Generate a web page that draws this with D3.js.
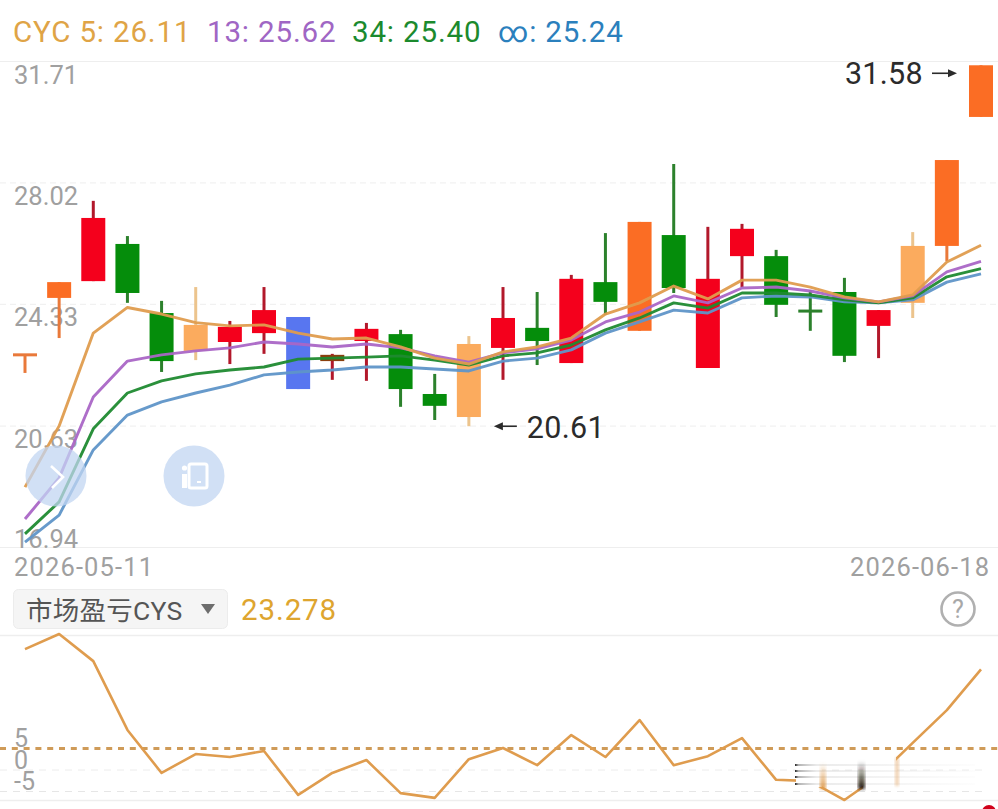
<!DOCTYPE html>
<html><head><meta charset="utf-8">
<script src="https://cdn.jsdelivr.net/npm/d3@7/dist/d3.min.js"></script>
<style>html,body{margin:0;padding:0;background:#fff}svg{display:block}text{font-family:Roboto,"Noto Sans CJK SC",sans-serif}</style>
</head><body><div id="c"></div>
<script>
const dates=["2026-05-11","2026-05-12","2026-05-13","2026-05-14","2026-05-15","2026-05-18","2026-05-19","2026-05-20","2026-05-21","2026-05-22","2026-05-25","2026-05-26","2026-05-27","2026-05-28","2026-05-29","2026-06-01","2026-06-02","2026-06-03","2026-06-04","2026-06-05","2026-06-08","2026-06-09","2026-06-10","2026-06-11","2026-06-12","2026-06-15","2026-06-16","2026-06-17","2026-06-18"];
const kinds=["orange","orange","red","green","green","light","red","red","blue","brown","red","green","green","light","red","green","red","green","orange","green","red","red","green","green","green","red","light","orange","orange"];
const upper=[22.78,24.99,26.94,26.15,24.05,23.69,23.63,24.14,23.93,22.78,23.57,23.41,21.59,23.11,23.90,23.60,25.09,24.99,26.82,26.42,25.09,26.61,25.78,24.11,24.69,24.14,26.09,28.70,31.58];
const lower=[22.78,24.51,25.02,24.66,22.59,22.90,23.17,23.44,21.74,22.59,23.20,21.74,21.23,20.89,22.99,23.20,22.53,24.39,23.51,24.81,22.38,25.78,24.30,24.11,22.75,23.66,24.36,26.09,30.01];
const high=[22.78,24.99,27.46,26.39,24.42,24.84,23.81,24.84,23.93,22.81,23.75,23.54,22.20,23.35,24.84,24.69,25.21,26.48,26.82,28.58,26.67,26.76,25.97,24.75,25.12,24.14,26.51,28.70,31.58];
const low=[22.23,23.29,25.02,24.36,22.26,22.62,22.50,22.81,21.74,22.02,21.99,21.20,20.80,20.61,22.02,22.47,22.53,23.99,23.51,24.66,22.38,24.84,23.93,23.51,22.56,22.68,23.90,25.63,30.01];
const ma5=[18.76,20.62,23.44,24.22,24.02,23.76,23.66,23.69,23.44,23.26,23.29,23.02,22.68,22.50,22.87,23.02,23.29,24.02,24.36,24.87,24.48,25.05,25.05,24.84,24.54,24.39,24.60,25.60,26.11];
const ma13=[17.79,19.04,21.50,22.59,22.78,22.90,22.99,23.17,23.11,23.02,23.11,22.99,22.75,22.56,22.84,22.96,23.23,23.78,24.08,24.57,24.36,24.81,24.84,24.72,24.51,24.39,24.57,25.30,25.62];
const ma34=[17.34,18.31,20.53,21.62,21.99,22.20,22.32,22.41,22.65,22.68,22.71,22.75,22.62,22.47,22.75,22.84,23.08,23.54,23.90,24.36,24.20,24.66,24.66,24.60,24.45,24.36,24.51,25.15,25.40];
const maInf=[17.09,17.91,19.89,20.95,21.35,21.62,21.86,22.17,22.26,22.32,22.41,22.41,22.35,22.29,22.59,22.68,22.93,23.44,23.78,24.14,24.05,24.51,24.57,24.54,24.39,24.36,24.45,24.99,25.24];
const cys=[28.0,31.5,25.2,9.2,-0.8,3.6,2.9,4.3,-5.9,-0.8,2.2,-5.5,-6.6,2.4,5.0,1.0,8.0,2.9,11.5,1.0,3.1,7.3,-2.4,-2.7,-7.1,-1.5,6.2,13.8,23.278];
const priceTicks=[31.71,28.02,24.33,20.63,16.94];
const cysTicks=[5,0,-5];
const dateTicks=["2026-05-11","2026-06-18"];
const legend=[["CYC 5: 26.11","#dfa446",13],["13: 25.62","#a066c4",207],["34: 25.40","#1b8a2e",352],["∞: 25.24","#2b80bd",498]];
const colors={orange:"#fb6d24",red:"#f4001c",green:"#058d0b",light:"#fbab5e",blue:"#5876f0",brown:"#8a3f0e"};
const wicks={orange:"#e9793a",red:"#b2182b",green:"#2c812c",light:"#ecc48d",blue:"#5876f0",brown:"#b2182b"};

const W=998,H=809;
const svg=d3.select("#c").append("svg").attr("width",W).attr("height",H);
const x=d3.scalePoint().domain(dates).range([25,981]);
const y=d3.scaleLinear().domain([16.94,31.71]).range([547,61]);
const y2=d3.scaleLinear().domain([-5,5]).range([791,748]);

// header legend
svg.selectAll("text.lg").data(legend).join("text").attr("class","lg")
 .attr("x",d=>d[2]).attr("y",42).attr("fill",d=>d[1]).attr("font-size",29.5).attr("letter-spacing",0.85).text(d=>d[0]);

// price grid + labels
const gridAxis=d3.axisRight(y).tickValues(priceTicks).tickSize(W).tickFormat(d3.format(".2f"));
const ga=svg.append("g").call(gridAxis);
ga.select(".domain").remove();
ga.selectAll("line").attr("stroke","#eeeeee").attr("stroke-width",1).attr("stroke-dasharray",d=>(d===31.71||d===16.94)?null:"6,4");
ga.selectAll("text").attr("x",14).attr("dy",d=>d===16.94?0:22).attr("text-anchor","start").attr("fill","#a0a0a0").attr("font-size",25.5).attr("font-family","Roboto");

// date axis
svg.selectAll("text.dt").data(dateTicks).join("text").attr("class","dt")
 .attr("x",(d,i)=>i?850:14).attr("y",576).attr("text-anchor","start").attr("letter-spacing",1.15)
 .attr("fill","#a0a0a0").attr("font-size",25.5).text(d=>d);

// candles
const cg=svg.append("g");
const idx=d3.range(dates.length);
cg.selectAll("line.w").data(idx).join("line").attr("class","w")
 .attr("x1",i=>x(dates[i])).attr("x2",i=>x(dates[i])).attr("y1",i=>y(high[i])).attr("y2",i=>y(low[i]))
 .attr("stroke",i=>wicks[kinds[i]]).attr("stroke-width",3);
cg.selectAll("rect.b").data(idx).join("rect").attr("class","b")
 .attr("x",i=>x(dates[i])-12).attr("width",24)
 .attr("y",i=>upper[i]===lower[i]?y(upper[i])-1.5:y(upper[i]))
 .attr("height",i=>Math.max(3,y(lower[i])-y(upper[i])))
 .attr("fill",(i)=>(upper[i]===lower[i]&&i>0)?wicks.green:(i===0?wicks.orange:colors[kinds[i]]));

// MA lines
const line=d3.line().x((d,i)=>x(dates[i])).y(d=>y(d));
[[maInf,"#5f95c8"],[ma34,"#1f8a30"],[ma13,"#aa66c6"],[ma5,"#df9c4e"]].forEach(([s,c])=>{
 svg.append("path").datum(s).attr("d",line).attr("fill","none").attr("stroke",c).attr("stroke-width",2.9).attr("stroke-linejoin","round").attr("stroke-opacity",0.95);
});
// floating buttons
const bub=svg.append("g");
bub.selectAll("circle").data([56,194]).join("circle").attr("cx",d=>d).attr("cy",476).attr("r",30.5).attr("fill","#c2d5f1").attr("fill-opacity",0.75);
bub.append("path").attr("d","M51,466 L63,477 L52,488").attr("fill","none").attr("stroke","#fff").attr("stroke-width",2.6);
bub.append("rect").attr("x",189).attr("y",464).attr("width",18).attr("height",24).attr("rx",2).attr("fill","none").attr("stroke","#fff").attr("stroke-width",3);
bub.append("rect").attr("x",182).attr("y",474).attr("width",5).attr("height",14).attr("fill","#fff");
bub.append("circle").attr("cx",184.5).attr("cy",468).attr("r",2.6).attr("fill","#fff");
bub.append("rect").attr("x",197).attr("y",481).attr("width",4).attr("height",2).attr("fill","#fff");

// annotations
const hiI=dates.length-1, loI=low.indexOf(d3.min(low));
svg.append("text").attr("x",x(dates[hiI])-58).attr("y",y(high[hiI])+19).attr("text-anchor","end").attr("font-size",30.5).attr("letter-spacing",0.3).attr("fill","#2b2b2b").text(d3.format(".2f")(high[hiI]));
const arrow=(x1,x2,yy)=>{const s=Math.sign(x2-x1);
 svg.append("line").attr("x1",x1).attr("x2",x2-s*6).attr("y1",yy).attr("y2",yy).attr("stroke","#2b2b2b").attr("stroke-width",1.6);
 svg.append("path").attr("d",`M${x2},${yy} L${x2-s*9},${yy-4} L${x2-s*9},${yy+4} Z`).attr("fill","#2b2b2b");};
arrow(x(dates[hiI])-49,x(dates[hiI])-24,y(high[hiI])+8);
arrow(x(dates[loI])+48,x(dates[loI])+25,y(low[loI]));
svg.append("text").attr("x",x(dates[loI])+58).attr("y",y(low[loI])+12).attr("font-size",30.5).attr("letter-spacing",0.3).attr("fill","#2b2b2b").text(d3.format(".2f")(low[loI]));

// indicator header
svg.append("rect").attr("x",13.5).attr("y",589.5).attr("width",214).attr("height",39).attr("rx",5).attr("fill","#f5f5f5").attr("stroke","#ececec");
svg.append("text").attr("x",26).attr("y",620).attr("font-size",26.5).attr("letter-spacing",0.25).attr("fill","#555").attr("font-family",'"Noto Sans CJK SC",sans-serif').text("市场盈亏CYS");
svg.append("path").attr("d","M201,604 L215,604 L208,614 Z").attr("fill","#6d6d6d");
svg.append("text").attr("x",241).attr("y",620).attr("font-size",29.5).attr("letter-spacing",0.9).attr("fill","#dea52f").text(d3.format(".3f")(cys[cys.length-1]));
svg.append("circle").attr("cx",958).attr("cy",609).attr("r",16.5).attr("fill","none").attr("stroke","#b0b0b0").attr("stroke-width",2.6);
svg.append("text").attr("x",958).attr("y",618).attr("text-anchor","middle").attr("font-size",25).attr("fill","#a8a8a8").text("?");

// indicator panel
[635,800].forEach(v=>svg.append("line").attr("x1",0).attr("x2",W).attr("y1",v+.5).attr("y2",v+.5).attr("stroke","#eeeeee").attr("stroke-width",1.5));
const a2=d3.axisRight(y2).tickValues(cysTicks).tickSize(W).tickFormat(d3.format("d"));
const ga2=svg.append("g").call(a2);
ga2.select(".domain").remove();
ga2.selectAll("line").attr("stroke",d=>d===5?"#cf9b58":d===0?"#ececec":"#e6e6e6").attr("stroke-width",d=>d===5?3:1).attr("stroke-dasharray",d=>d===5?"6,5.8":"7,6").attr("x2",d=>d===5?W:988);
ga2.selectAll("text").attr("x",14).attr("dy",-1.5).attr("y",0).attr("text-anchor","start").attr("fill","#a0a0a0").attr("font-size",25).attr("font-family","Roboto").text(d=>d<0?"-"+Math.abs(d):d);
const line2=d3.line().x((d,i)=>x(dates[i])).y(d=>y2(d));
svg.append("path").datum(cys).attr("d",line2).attr("fill","none").attr("stroke","#df9c4e").attr("stroke-width",2.6).attr("stroke-linejoin","round");

// smudged-out watermark region
const defs=svg.append("defs");
defs.append("filter").attr("id","bl").append("feGaussianBlur").attr("stdDeviation",1.8);
const vg=(id,c)=>{const g=defs.append("linearGradient").attr("id",id).attr("x1",0).attr("x2",0).attr("y1",1).attr("y2",0);
 g.append("stop").attr("offset",0).attr("stop-color",c).attr("stop-opacity",.95);
 g.append("stop").attr("offset",1).attr("stop-color",c).attr("stop-opacity",0);};
vg("gO","#df9c4e");vg("gK","#1a1208");
const hg=defs.append("linearGradient").attr("id","gH");
hg.append("stop").attr("offset",0).attr("stop-color","#111").attr("stop-opacity",.95);
hg.append("stop").attr("offset",.02).attr("stop-color","#555").attr("stop-opacity",.45);
hg.append("stop").attr("offset",.12).attr("stop-color","#bbb").attr("stop-opacity",.3);
hg.append("stop").attr("offset",1).attr("stop-color","#ccc").attr("stop-opacity",0.04);
const sm=svg.append("g");
sm.append("rect").attr("x",796).attr("y",758).attr("width",26).attr("height",29).attr("fill","#fff");
sm.append("rect").attr("x",863).attr("y",756).attr("width",33).attr("height",33).attr("fill","#fff");
[765,771,777,784].forEach(v=>{sm.append("rect").attr("x",795).attr("y",v-1).attr("width",180).attr("height",2).attr("fill","url(#gH)");});
sm.append("rect").attr("x",820).attr("y",763).attr("width",6).attr("height",26).attr("fill","url(#gO)").attr("filter","url(#bl)");
sm.append("rect").attr("x",858).attr("y",761).attr("width",7).attr("height",28).attr("fill","url(#gK)").attr("filter","url(#bl)");
sm.append("rect").attr("x",895).attr("y",758).attr("width",4).attr("height",28).attr("fill","#e8b27a").attr("opacity",.55).attr("filter","url(#bl)");

// corner dot
svg.append("circle").attr("cx",989).attr("cy",812).attr("r",7).attr("fill","#d0021b");
</script></body></html>
